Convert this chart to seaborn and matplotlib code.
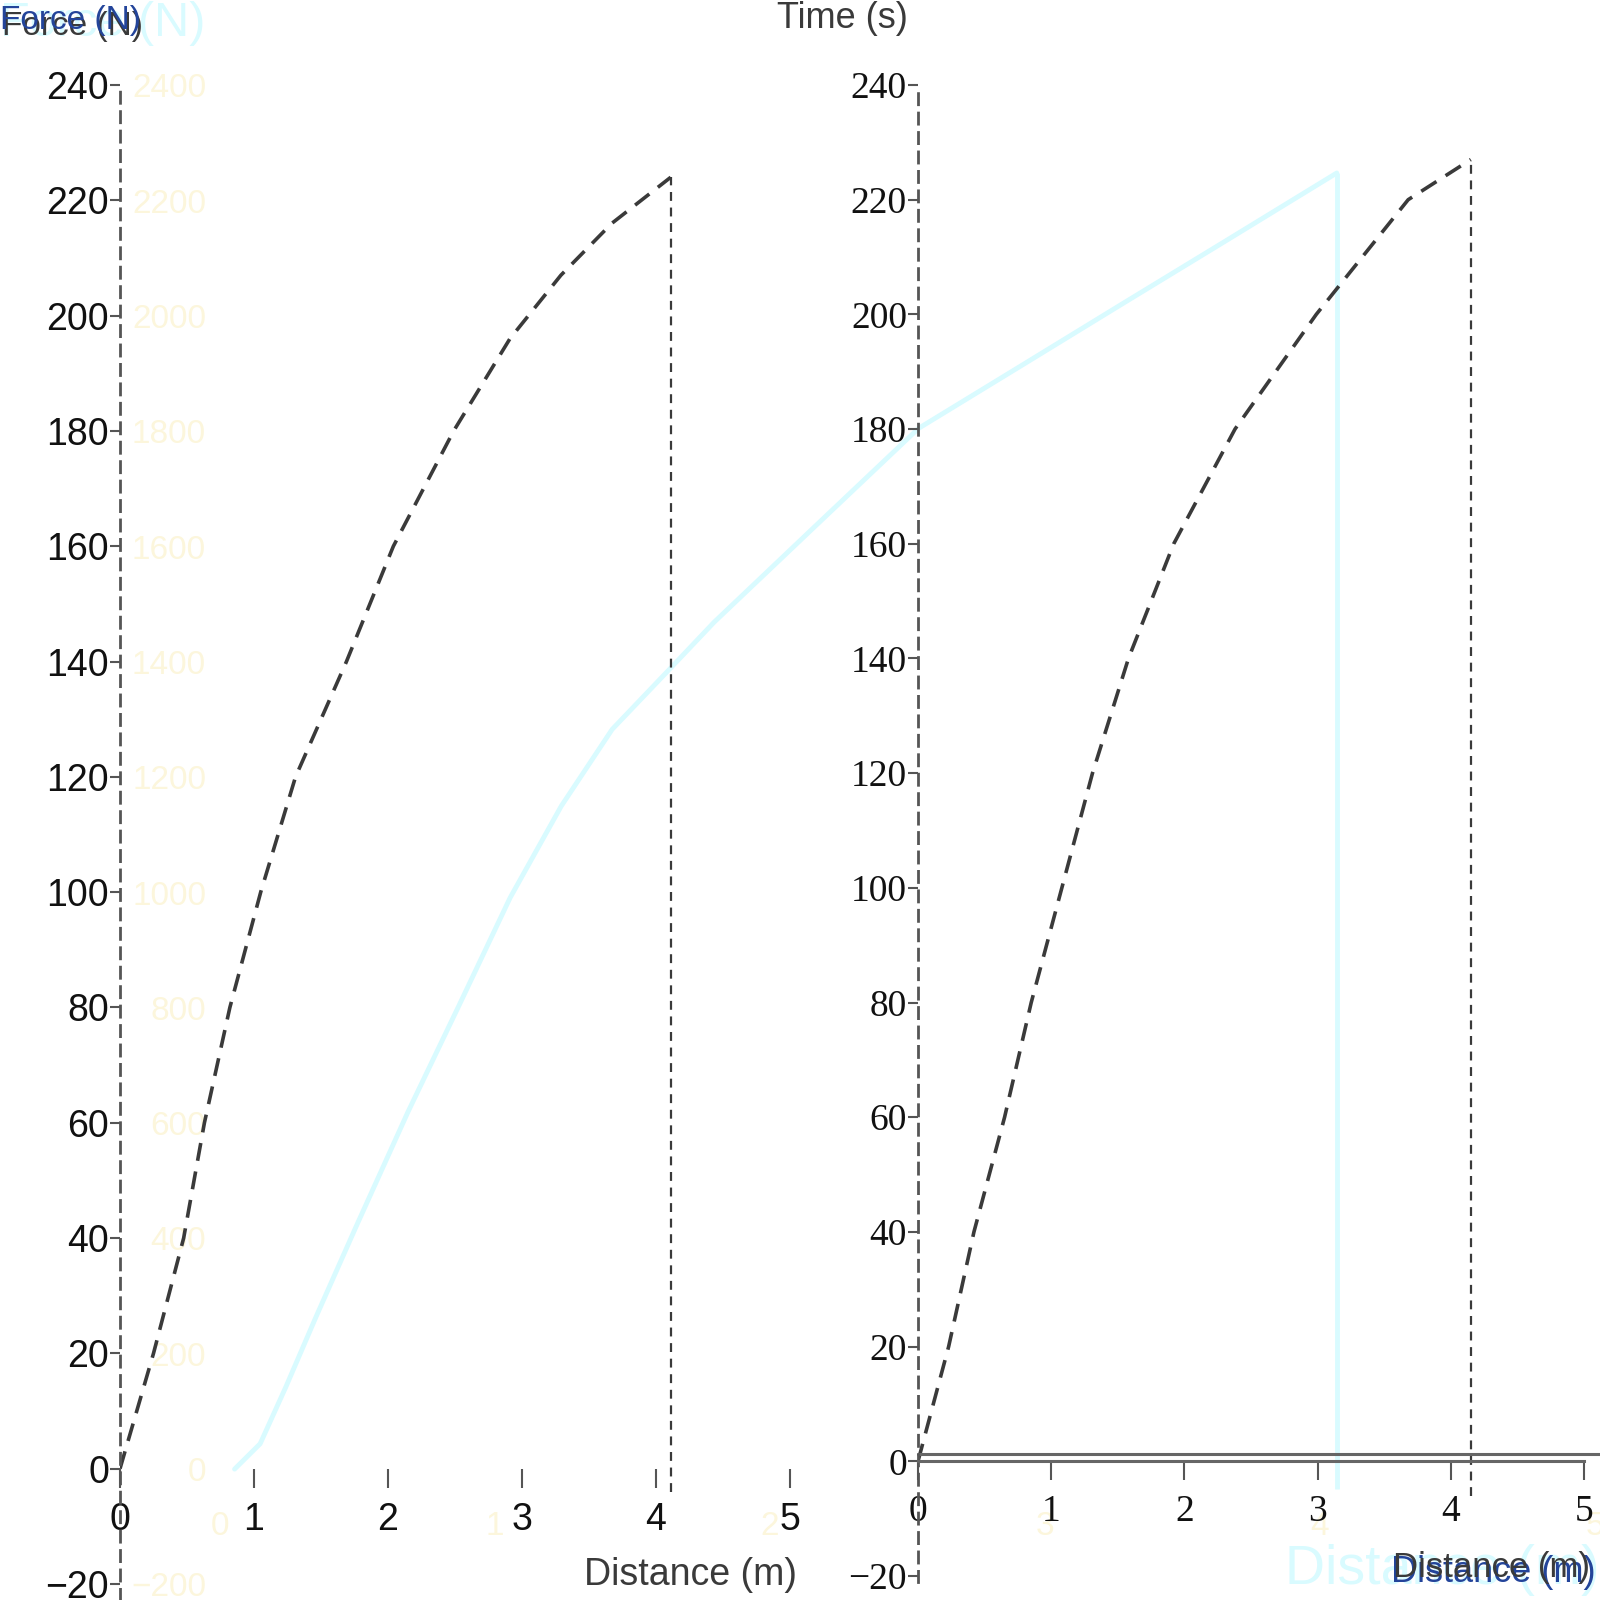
import matplotlib
matplotlib.use("Agg")
import matplotlib.pyplot as plt
import matplotlib.transforms as mtransforms
from matplotlib import font_manager
import seaborn as sns
import pandas as pd

# ---------------- data ----------------
# faint background series (Force in N vs Distance in m)
bg_x = [0.053, 0.146, 0.239, 0.350, 0.499, 0.684, 0.870, 1.055, 1.241, 1.426,
        1.638, 1.797, 2.168, 2.540, 2.911, 3.281, 3.653, 4.061]
bg_y = [0, 44, 142, 265, 425, 620, 805, 991, 1150, 1283,
        1389, 1469, 1637, 1805, 1913, 2021, 2129, 2248]
bg_drop_to = -35

# left panel dashed series
left_x = [0, 0.25, 0.475, 0.63, 0.82, 1.05, 1.31, 1.69, 2.04, 2.49, 2.91, 3.29, 3.67, 4.11]
left_y = [0, 20, 40, 60, 80, 100, 120, 140, 160, 180, 196, 207, 216, 224]
left_drop_to = -4

# right panel dashed series
right_x = [0, 0.23, 0.42, 0.65, 0.85, 1.08, 1.31, 1.58, 1.92, 2.38, 2.99, 3.68, 4.15]
right_y = [0, 20, 40, 60, 80, 100, 120, 140, 160, 180, 200, 220, 227]
right_drop_to = -6

bg_yticks = list(range(-200, 2401, 200))
panel_yticks = list(range(-20, 241, 20))
x_ticks = [0, 1, 2, 3, 4, 5]

names = {f.name for f in font_manager.fontManager.ttflist}
narrow = "Liberation Sans Narrow" if "Liberation Sans Narrow" in names else "Liberation Sans"
serif = "Liberation Serif"
sans = "Liberation Sans"

sns.set_theme(style="white")
plt.rcParams["font.family"] = [sans, "DejaVu Sans"]

W = H = 1600
fig = plt.figure(figsize=(16, 16), dpi=100)
fig.patch.set_facecolor("white")

FAINT_CYAN = "#d9fbff"
FAINT_YEL = "#fcf6dc"
DARK = "#3a3a3a"
BLUE = "#23449a"

# ---------------- faint background axes ----------------
ax0 = fig.add_axes([220 / W, 0, 1 - 220 / W, 1])
ax0.set_facecolor("none")
df0 = pd.DataFrame({"x": bg_x, "y": bg_y})
sns.lineplot(data=df0, x="x", y="y", ax=ax0, color=FAINT_CYAN, lw=3.5,
             sort=False, estimator=None)
ax0.vlines(bg_x[-1], bg_drop_to, bg_y[-1], color=FAINT_CYAN, lw=3.5)
ax0.set_xlim(0, (W - 220) / 275)
ax0.set_ylim(-227, 2548)
for s in ax0.spines.values():
    s.set_visible(False)
ax0.spines["bottom"].set_position(("data", 0))
ax0.set_yticks(bg_yticks)
ax0.set_xticks(x_ticks)
ax0.tick_params(axis="y", length=0, pad=10, labelsize=24, labelcolor=FAINT_YEL)
ax0.tick_params(axis="x", length=0, pad=30, labelsize=24, labelcolor=FAINT_YEL)
ax0.set_xlabel("")
ax0.set_ylabel("")

# ---------------- left panel ----------------
ax1 = fig.add_axes([120 / W, (W - 1584) / W, 670 / W, (1584 - 85) / W])
ax1.set_facecolor("none")
df1 = pd.DataFrame({"x": left_x, "y": left_y})
sns.lineplot(data=df1, x="x", y="y", ax=ax1, color=DARK, lw=2.6,
             sort=False, estimator=None)
ax1.lines[-1].set_dashes([5, 3])
ax1.vlines(left_x[-1], left_drop_to, left_y[-1], color=DARK, lw=1.6,
           linestyles=(0, (4, 3)))
ax1.set_xlim(0, 5)
ax1.set_ylim(-20, 240)
ax1.set_xticks(x_ticks)
ax1.set_yticks(panel_yticks)
for k in ["top", "right"]:
    ax1.spines[k].set_visible(False)
ax1.spines["bottom"].set_position(("data", 0))
ax1.spines["bottom"].set_visible(False)
ax1.spines["left"].set_linestyle((0, (4, 3)))
ax1.spines["left"].set_color("#555555")
ax1.spines["left"].set_linewidth(2)
ax1.spines["left"].set_bounds(-22.7, 240)
ax1.tick_params(axis="x", direction="out", length=14, width=1.5, color="#555555",
                pad=10, labelsize=27, labelcolor="#111111", bottom=True)
ax1.tick_params(axis="y", direction="out", length=7, width=1.5, color="#555555",
                pad=1, labelsize=27, labelcolor="#111111", left=True)
for lab in ax1.get_xticklabels() + ax1.get_yticklabels():
    lab.set_family([narrow, "DejaVu Sans"])
ax1.set_xlabel("")
ax1.set_ylabel("")

# ---------------- right panel ----------------
ax2 = fig.add_axes([918 / W, (W - 1576) / W, (W - 918) / W, (1576 - 85) / W])
ax2.set_facecolor("none")
df2 = pd.DataFrame({"x": right_x, "y": right_y})
sns.lineplot(data=df2, x="x", y="y", ax=ax2, color=DARK, lw=2.6,
             sort=False, estimator=None)
ax2.lines[-1].set_dashes([5, 3])
ax2.vlines(right_x[-1], right_drop_to, right_y[-1], color=DARK, lw=1.6,
           linestyles=(0, (4, 3)))
ax2.set_xlim(0, (W - 918) / 133.2)
ax2.set_ylim(-20, 240)
ax2.set_xticks(x_ticks)
ax2.set_yticks(panel_yticks)
for k in ["top", "right"]:
    ax2.spines[k].set_visible(False)
ax2.spines["bottom"].set_position(("data", 0))
ax2.spines["bottom"].set_color("#666666")
ax2.spines["bottom"].set_linewidth(2.2)
ax2.spines["bottom"].set_bounds(0, 5)
ax2.spines["left"].set_linestyle((0, (4, 3)))
ax2.spines["left"].set_color("#555555")
ax2.spines["left"].set_linewidth(2)
ax2.spines["left"].set_bounds(-21, 240)
# doubled zero line (offset copy of the baseline, running to the figure edge)
off = mtransforms.offset_copy(ax2.get_yaxis_transform(), fig=fig, x=0, y=7, units="dots")
ax2.plot([0, 1], [0, 0], transform=mtransforms.blended_transform_factory(
    ax2.transAxes, off), color="#666666", lw=2.2, clip_on=False)
ax2.tick_params(axis="x", direction="out", length=14, width=1.5, color="#555555",
                pad=10, labelsize=27, labelcolor="#111111", bottom=True)
ax2.tick_params(axis="y", direction="out", length=7, width=1.5, color="#555555",
                pad=1, labelsize=27, labelcolor="#111111", left=True)
for lab in ax2.get_xticklabels() + ax2.get_yticklabels():
    lab.set_family([serif, "DejaVu Sans"])
ax2.set_xlabel("")
ax2.set_ylabel("")

# ---------------- labels ----------------
def px(x, y):
    return x / W, 1 - y / H

fig.text(*px(0, 24), "Force (N)", color=FAINT_CYAN, fontsize=35, ha="left",
         va="center", family=[sans, "DejaVu Sans"])
fig.text(*px(1600, 1570), "Distance (m)", color=FAINT_CYAN, fontsize=40,
         ha="right", va="center", family=[sans, "DejaVu Sans"])

fig.text(*px(2, 26), "Force (N)", color=DARK, fontsize=24, ha="left",
         va="center", family=[narrow, "DejaVu Sans"])
fig.text(*px(0, 20), "Force (N)", color=BLUE, fontsize=24, ha="left",
         va="center", family=[narrow, "DejaVu Sans"])
fig.text(*px(908, 18), "Time (s)", color=DARK, fontsize=26, ha="right",
         va="center", family=[narrow, "DejaVu Sans"])
fig.text(*px(797, 1575), "Distance (m)", color=DARK, fontsize=27, ha="right",
         va="center", family=[narrow, "DejaVu Sans"])
fig.text(*px(1596, 1572), "Distance (m)", color=BLUE, fontsize=26, ha="right",
         va="center", family=[narrow, "DejaVu Sans"])
fig.text(*px(1590, 1568), "Distance (m)", color=DARK, fontsize=25, ha="right",
         va="center", family=[narrow, "DejaVu Sans"])

fig.savefig("out.png", dpi=100, facecolor="white")
